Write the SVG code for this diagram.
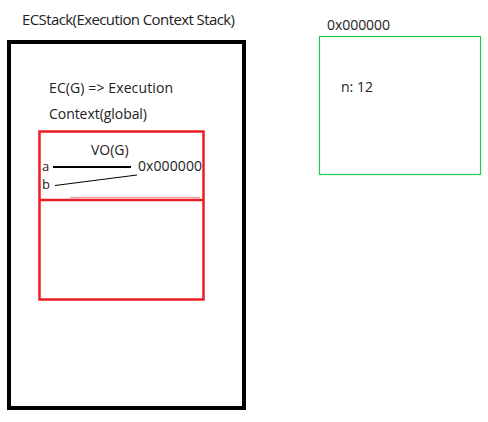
<svg xmlns="http://www.w3.org/2000/svg" width="488" height="422" viewBox="0 0 488 422">
<style>
text{font-family:"Open Sans","Noto Sans",sans-serif;fill:#222;font-size:14px}
.big{font-size:15px}
.s{font-size:13px}
</style>
<rect width="488" height="422" fill="#fff"/>
<text class="big" x="22" y="25" textLength="213">ECStack(Execution Context Stack)</text>
<g id="ecstack">
<rect x="9" y="42" width="235" height="366" fill="none" stroke="#000" stroke-width="4"/>
<text x="49" y="93" textLength="124">EC(G) =&gt; Execution</text>
<text x="49" y="119" textLength="98">Context(global)</text>
</g>
<g id="ecg">
<rect x="39.5" y="131.5" width="164" height="168" fill="none" stroke="#ee1c24" stroke-width="2.5"/>
<line x1="70" y1="197.5" x2="200" y2="197.5" stroke="#f4a0a4" stroke-width="1.5"/>
<line x1="39.5" y1="200" x2="203.5" y2="200" stroke="#ee1c24" stroke-width="2.5"/>
<text x="91" y="155">VO(G)</text>
<text class="s" x="42" y="171">a</text>
<text class="s" x="42" y="189">b</text>
<text x="138" y="171" textLength="64">0x000000</text>
</g>
<g id="heap">
<text x="327" y="30" textLength="63">0x000000</text>
<rect x="319.5" y="36.5" width="161" height="138" fill="none" stroke="#22c84a" stroke-width="1.2"/>
<text x="341" y="92">n: 12</text>
</g>
<g id="connectors">
<line x1="53" y1="167" x2="131" y2="167" stroke="#000" stroke-width="2"/>
<line x1="55" y1="185.5" x2="137" y2="175" stroke="#000" stroke-width="1"/>
</g>
</svg>
